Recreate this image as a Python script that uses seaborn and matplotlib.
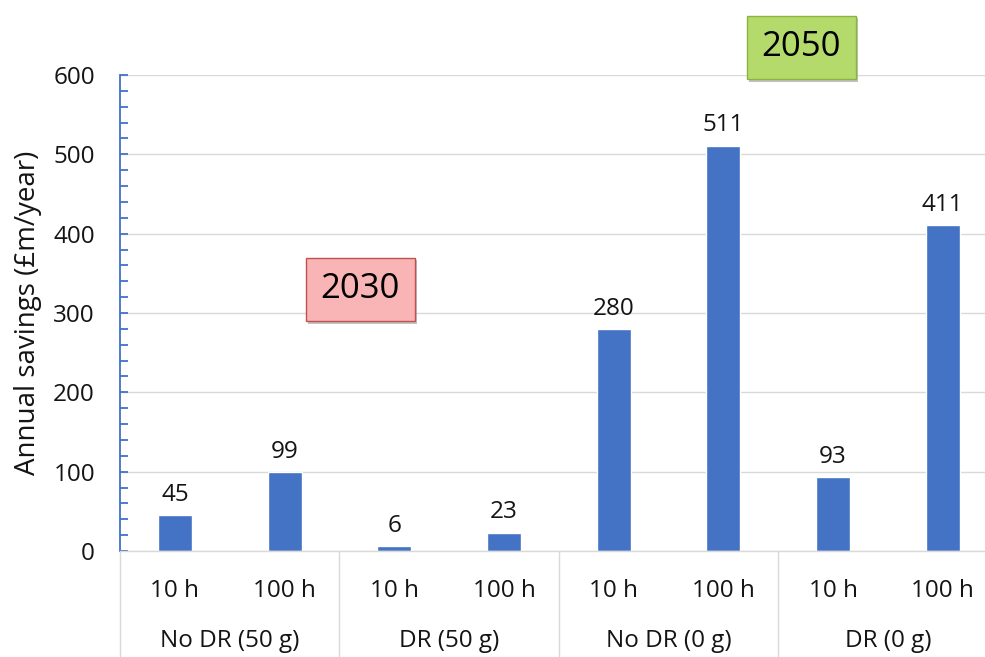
import matplotlib.pyplot as plt
import matplotlib.transforms as mtransforms
import matplotlib.patheffects as pe
import seaborn as sns
import pandas as pd

# chart data
groups = ['No DR (50 g)', 'DR (50 g)', 'No DR (0 g)', 'DR (0 g)']
durations = ['10 h', '100 h']
savings = [45, 99, 6, 23, 280, 511, 93, 411]

rows = []
i = 0
for g in groups:
    for d in durations:
        rows.append({'key': f'{g}|{d}', 'group': g, 'duration': d, 'savings': savings[i]})
        i += 1
df = pd.DataFrame(rows)

sns.set_style('white')
plt.rcParams['font.family'] = ['Open Sans', 'DejaVu Sans']
txt = '#141414'
fs = 17.5

fig = plt.figure(figsize=(9.85, 6.57), dpi=100)
ax = fig.add_axes([120 / 985, 106 / 657, 877.6 / 985, 476 / 657])

sns.barplot(data=df, x='key', y='savings', order=list(df['key']),
            color='#4472C4', saturation=1, width=0.31, ax=ax)

ax.set_ylim(0, 600)
ax.set_xlim(-0.5, 7.5)
ax.set_yticks(range(0, 601, 100))
ax.set_yticks(range(0, 601, 20), minor=True)
ax.yaxis.grid(True, color='#D9D9D9', linewidth=1)
ax.set_axisbelow(True)

blue = '#4472C4'
for s in ['top', 'right']:
    ax.spines[s].set_visible(False)
ax.spines['left'].set_color(blue)
ax.spines['left'].set_linewidth(1.3)
ax.spines['bottom'].set_color('#D9D9D9')
ax.spines['bottom'].set_linewidth(1)

ax.tick_params(axis='y', which='both', direction='in', color=blue, width=1.3,
               length=6, labelsize=fs, pad=18, labelcolor=txt, left=True)
ax.set_xticks([])
ax.set_xlabel('')
ax.set_ylabel('Annual savings (£m/year)', fontsize=20, labelpad=8, color=txt)

# value labels
ax.bar_label(ax.containers[0], labels=[str(v) for v in savings], padding=6,
             fontsize=fs, color=txt)

# hour labels, group labels and separators
tr = mtransforms.blended_transform_factory(ax.transData, ax.transAxes)
for k, d in enumerate(df['duration']):
    ax.text(k, -0.085, d, transform=tr, ha='center', va='center', fontsize=fs, color=txt)
for gi, g in enumerate(groups):
    ax.text(gi * 2 + 0.5, -0.19, g, transform=tr, ha='center', va='center', fontsize=fs, color=txt)
for xs in [-0.5, 1.5, 3.5, 5.5, 7.5]:
    ax.plot([xs, xs], [0, -0.23], transform=tr, color='#D9D9D9', linewidth=1, clip_on=False)

# year boxes
shadow = [pe.SimplePatchShadow(offset=(1.5, -2), shadow_rgbFace='#999999', alpha=0.6), pe.Normal()]
t1 = ax.text(1.69, 330, '2030', ha='center', va='center', fontsize=25, color='#000000',
             bbox=dict(boxstyle='square,pad=0.42', facecolor='#F9B5B5', edgecolor='#C0504D', linewidth=1))
t2 = ax.text(5.71, 635, '2050', ha='center', va='center', fontsize=25, clip_on=False, color='#000000',
             bbox=dict(boxstyle='square,pad=0.42', facecolor='#B5DA6C', edgecolor='#8DB43A', linewidth=1))
t1.get_bbox_patch().set_path_effects(shadow)
t2.get_bbox_patch().set_path_effects(shadow)

fig.savefig('out.png', dpi=100)
